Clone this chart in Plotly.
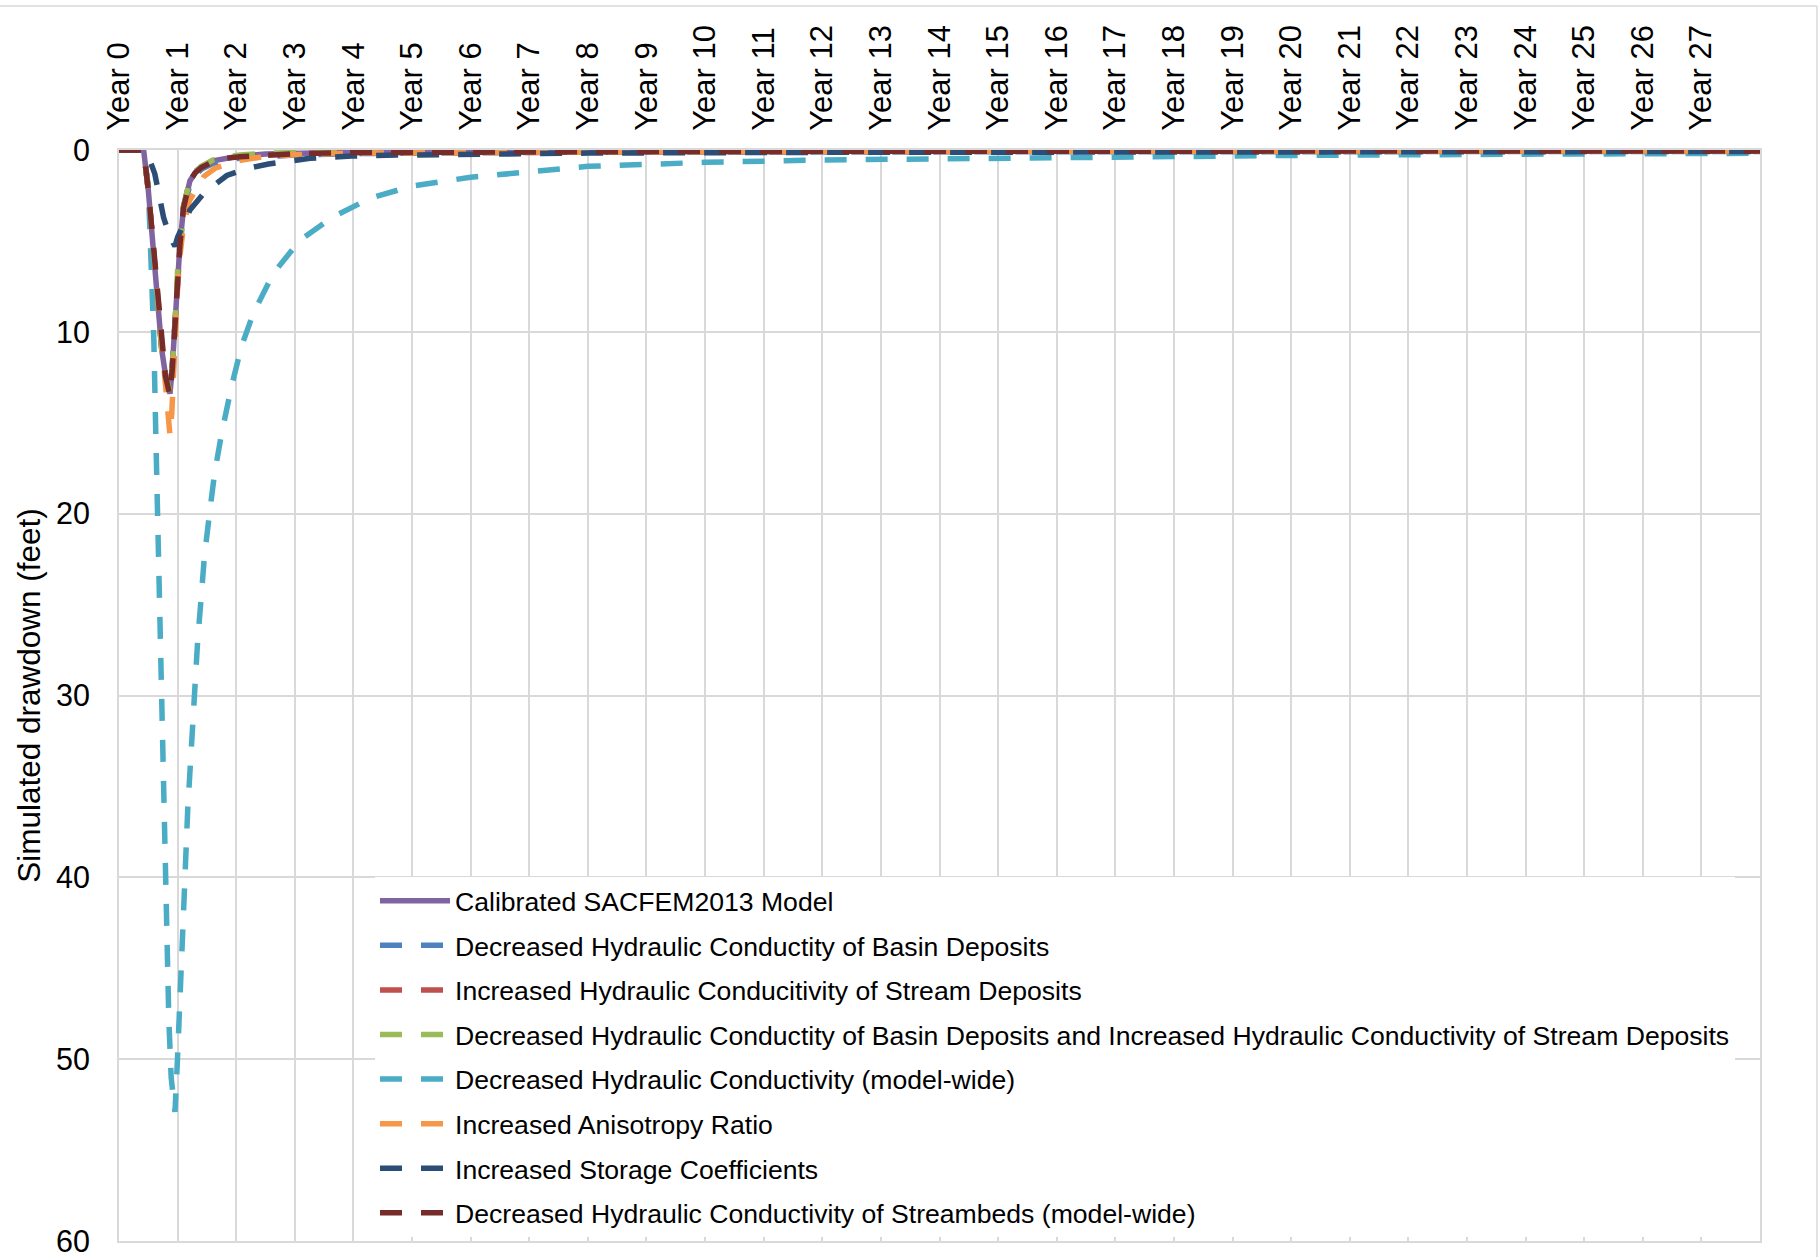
import plotly.graph_objects as go

# ---- axis ticks ----
year_ticks = list(range(28))
year_labels = [f"Year {n}" for n in year_ticks]
drawdown_ticks = [0, 10, 20, 30, 40, 50, 60]

# ---- simulated drawdown series (time in years, drawdown in feet) ----
calibrated_t = [0, 0.42, 0.5, 0.56, 0.61, 0.67, 0.73, 0.79, 0.84, 0.87, 0.91, 0.955, 1.0, 1.04,
                1.1, 1.21, 1.3, 1.41, 1.6, 1.84, 2.06, 2.5, 3.0, 4, 5, 6, 8, 10, 14, 18, 22, 28]
calibrated_dd = [0, 0, 2.2, 4.4, 6.0, 8.5, 11.0, 12.3, 13.0, 13.4, 11.9, 9.6, 6.5, 5.2,
                 3.2, 1.7, 1.25, 0.92, 0.6, 0.42, 0.33, 0.22, 0.17, 0.12, 0.1, 0.08, 0.07, 0.06, 0.05, 0.05, 0.04, 0.04]

basin_k_t = calibrated_t
basin_k_dd = [0, 0, 2.2, 4.4, 6.0, 8.5, 11.0, 12.3, 13.0, 13.3, 11.9, 9.7, 6.7, 5.4,
              3.4, 1.9, 1.4, 1.05, 0.75, 0.55, 0.45, 0.35, 0.28, 0.2, 0.17, 0.15, 0.12, 0.11, 0.1, 0.09, 0.08, 0.08]

stream_k_t = calibrated_t
stream_k_dd = [0, 0, 2.2, 4.4, 6.0, 8.5, 11.0, 12.3, 13.0, 13.3, 11.8, 9.5, 6.4, 5.1,
               3.1, 1.65, 1.2, 0.9, 0.6, 0.42, 0.34, 0.25, 0.19, 0.14, 0.12, 0.1, 0.09, 0.08, 0.07, 0.06, 0.06, 0.05]

basin_stream_t = calibrated_t
basin_stream_dd = [0, 0, 2.2, 4.4, 6.0, 8.5, 11.0, 12.3, 13.0, 13.3, 11.8, 9.8, 6.6, 5.4,
                   3.1, 1.65, 1.2, 0.9, 0.55, 0.37, 0.28, 0.18, 0.13, 0.08, 0.06, 0.05, 0.04, 0.04, 0.03, 0.03, 0.03, 0.03]

model_k_t = [0, 0.42, 0.5, 0.556, 0.595, 0.625, 0.655, 0.69, 0.72, 0.745, 0.77, 0.81, 0.85, 0.89, 0.955,
             0.995, 1.02, 1.114, 1.172, 1.21, 1.25, 1.297, 1.343, 1.4, 1.456, 1.54, 1.63, 1.75, 1.92, 2.09,
             2.29, 2.63, 3.09, 3.66, 4.28, 5.0, 6, 8, 10, 12, 14, 17, 20, 24, 28]
model_k_dd = [0, 0, 2.0, 6.5, 10.5, 15.2, 19.8, 24.8, 29.0, 33.0, 37.0, 42.5, 47.8, 51.0, 52.9,
              50.2, 47.8, 40.9, 36.3, 33.9, 31.6, 29.3, 26.95, 24.7, 22.4, 20.1, 17.8, 15.6, 13.0, 10.8,
              9.0, 6.8, 4.95, 3.67, 2.66, 1.98, 1.5, 0.9, 0.68, 0.55, 0.47, 0.37, 0.3, 0.23, 0.18]

anisotropy_t = [0, 0.42, 0.5, 0.56, 0.61, 0.67, 0.73, 0.79, 0.84, 0.87, 0.9, 0.93, 0.97, 1.0, 1.04,
                1.1, 1.2, 1.3, 1.45, 1.64, 2.0, 2.46, 3.0, 4, 6, 10, 16, 22, 28]
anisotropy_dd = [0, 0, 2.2, 4.4, 6.2, 8.7, 11.2, 13.3, 15.0, 15.7, 14.5, 12.0, 9.5, 7.5, 5.8,
                 4.2, 2.8, 2.2, 1.45, 1.0, 0.6, 0.37, 0.26, 0.17, 0.12, 0.09, 0.07, 0.06, 0.05]

storage_t = [0, 0.44, 0.5, 0.56, 0.61, 0.68, 0.76, 0.86, 0.955, 1.0, 1.1, 1.21, 1.44, 1.84,
             2.2, 2.55, 3.26, 3.97, 4.74, 6, 8, 12, 18, 28]
storage_dd = [0, 0, 0.35, 0.8, 1.3, 2.4, 3.7, 4.7, 5.3, 4.8, 4.0, 3.3, 2.4, 1.4,
              1.0, 0.77, 0.46, 0.33, 0.28, 0.22, 0.17, 0.13, 0.1, 0.08]

streambed_t = calibrated_t
streambed_dd = [0, 0, 2.2, 4.4, 6.0, 8.5, 11.0, 12.4, 13.1, 13.5, 12.0, 9.7, 6.5, 5.2,
                3.2, 1.7, 1.25, 0.95, 0.66, 0.45, 0.37, 0.3, 0.2, 0.14, 0.12, 0.1, 0.09, 0.08, 0.07, 0.06, 0.05, 0.05]

series = [
    ("Calibrated SACFEM2013 Model", calibrated_t, calibrated_dd, "#8064A2", "solid"),
    ("Decreased Hydraulic Conductity of Basin Deposits", basin_k_t, basin_k_dd, "#4F81BD", "dash"),
    ("Increased Hydraulic Conducitivity of Stream Deposits", stream_k_t, stream_k_dd, "#C0504D", "dash"),
    ("Decreased Hydraulic Conductity of Basin Deposits and Increased Hydraulic Conductivity of Stream Deposits",
     basin_stream_t, basin_stream_dd, "#9BBB59", "dash"),
    ("Decreased Hydraulic Conductivity (model-wide)", model_k_t, model_k_dd, "#4BACC6", "dash"),
    ("Increased Anisotropy Ratio", anisotropy_t, anisotropy_dd, "#F79646", "dash"),
    ("Increased Storage Coefficients", storage_t, storage_dd, "#2C4D75", "dash"),
    ("Decreased Hydraulic Conductivity of Streambeds (model-wide)", streambed_t, streambed_dd, "#772C2A", "dash"),
]

FONT = "Liberation Sans, Arial, sans-serif"
GRID = "#d9d9d9"

fig = go.Figure()
for i, (name, t, dd, color, style) in enumerate(series):
    fig.add_trace(go.Scatter(
        x=t, y=dd, mode="lines", name=name,
        legendgroup=f"g{i}",
        line=dict(color=color, width=5.5, dash="solid" if style == "solid" else "22px,19px"),
    ))

W, H = 1818, 1257
L, R, T, B = 119, 58, 150, 16
pw, ph = W - L - R, H - T - B


def px_x(px):
    return (px - L) / pw


def px_y(py):
    return (H - B - py) / ph


fig.update_layout(
    width=W, height=H, autosize=False,
    margin=dict(l=L, r=R, t=T, b=B, autoexpand=False),
    paper_bgcolor="white", plot_bgcolor="white",
    font=dict(family=FONT, color="black"),
    showlegend=True,
    legend=dict(
        x=px_x(375), y=px_y(877), xanchor="left", yanchor="top",
        bgcolor="white", borderwidth=0,
        font=dict(family=FONT, size=26.6, color="black"),
        itemwidth=70, tracegroupgap=7,
    ),
    xaxis=dict(
        side="top", range=[0, 28], automargin=False,
        tickmode="array", tickvals=year_ticks, ticktext=year_labels,
        tickangle=-90, tickfont=dict(size=31, color="black"),
        showgrid=True, gridcolor=GRID, gridwidth=2,
        showline=True, linecolor=GRID, linewidth=2, mirror=True,
        zeroline=False, ticks="", ticklabelstandoff=11,
    ),
    yaxis=dict(
        range=[60, 0], automargin=False,
        tickmode="array", tickvals=drawdown_ticks,
        tickfont=dict(size=30.5, color="black"),
        showgrid=True, gridcolor=GRID, gridwidth=2,
        showline=True, linecolor=GRID, linewidth=2, mirror=True,
        zeroline=False, ticks="", ticklabelstandoff=21, ticklabeloverflow="allow",
        title=dict(text="Simulated drawdown (feet)", font=dict(size=31.5, color="black"), standoff=6),
    ),
    shapes=[
        dict(type="line", xref="paper", yref="paper", x0=px_x(0), x1=px_x(1817),
             y0=px_y(6), y1=px_y(6), line=dict(color=GRID, width=1.5)),
        dict(type="line", xref="paper", yref="paper", x0=px_x(1817), x1=px_x(1817),
             y0=px_y(6), y1=px_y(1257), line=dict(color=GRID, width=1.5)),
    ],
)

fig.write_html("out.html")
